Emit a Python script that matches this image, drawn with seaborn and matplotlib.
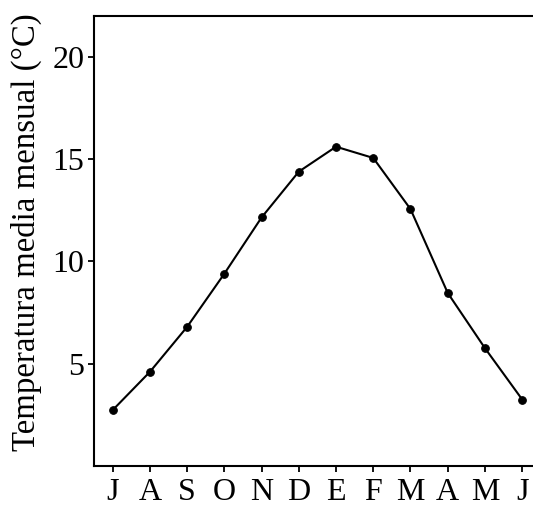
import matplotlib
matplotlib.use("Agg")
import matplotlib.pyplot as plt
import seaborn as sns
import pandas as pd

# Datos (julio a junio)
meses = ['J', 'A', 'S', 'O', 'N', 'D', 'E', 'F', 'M', 'A', 'M', 'J']
posicion = list(range(len(meses)))
temperatura = [2.73, 4.60, 6.80, 9.40, 12.15, 14.39, 15.61, 15.06, 12.56, 8.46, 5.76, 3.25]

df = pd.DataFrame({'pos': posicion, 'temp': temperatura})

sns.set_style('ticks')
plt.rcParams['font.family'] = ['Liberation Serif', 'DejaVu Serif']
plt.rcParams['text.color'] = 'black'
plt.rcParams['axes.labelcolor'] = 'black'
plt.rcParams['xtick.color'] = 'black'
plt.rcParams['ytick.color'] = 'black'

fig = plt.figure(figsize=(5.33, 5.09), dpi=100)
ax = fig.add_axes([94 / 533, 1 - 466 / 509, 1 - 94 / 533, (466 - 16) / 509])

sns.lineplot(x='pos', y='temp', data=df, ax=ax, color='black', linewidth=1.5,
             marker='o', markersize=5.5, markeredgecolor='black')

ax.set_xlim(-0.5, 11.29)
ax.set_ylim(0, 22)
ax.set_xticks(posicion)
ax.set_xticklabels(meses)
ax.set_yticks([5, 10, 15, 20])

ax.set_xlabel('')
ax.set_ylabel('Temperatura media mensual (°C)', fontsize=23.7)
ax.yaxis.set_label_coords(-0.118, 0.52)
ax.tick_params(axis='both', labelsize=23, length=4, width=1.3, pad=3)
ax.tick_params(axis='x', pad=5)

for lado in ['left', 'bottom', 'top']:
    ax.spines[lado].set_linewidth(1.5)
    ax.spines[lado].set_color('black')
ax.spines['right'].set_visible(False)

fig.savefig('out.png', dpi=100)
